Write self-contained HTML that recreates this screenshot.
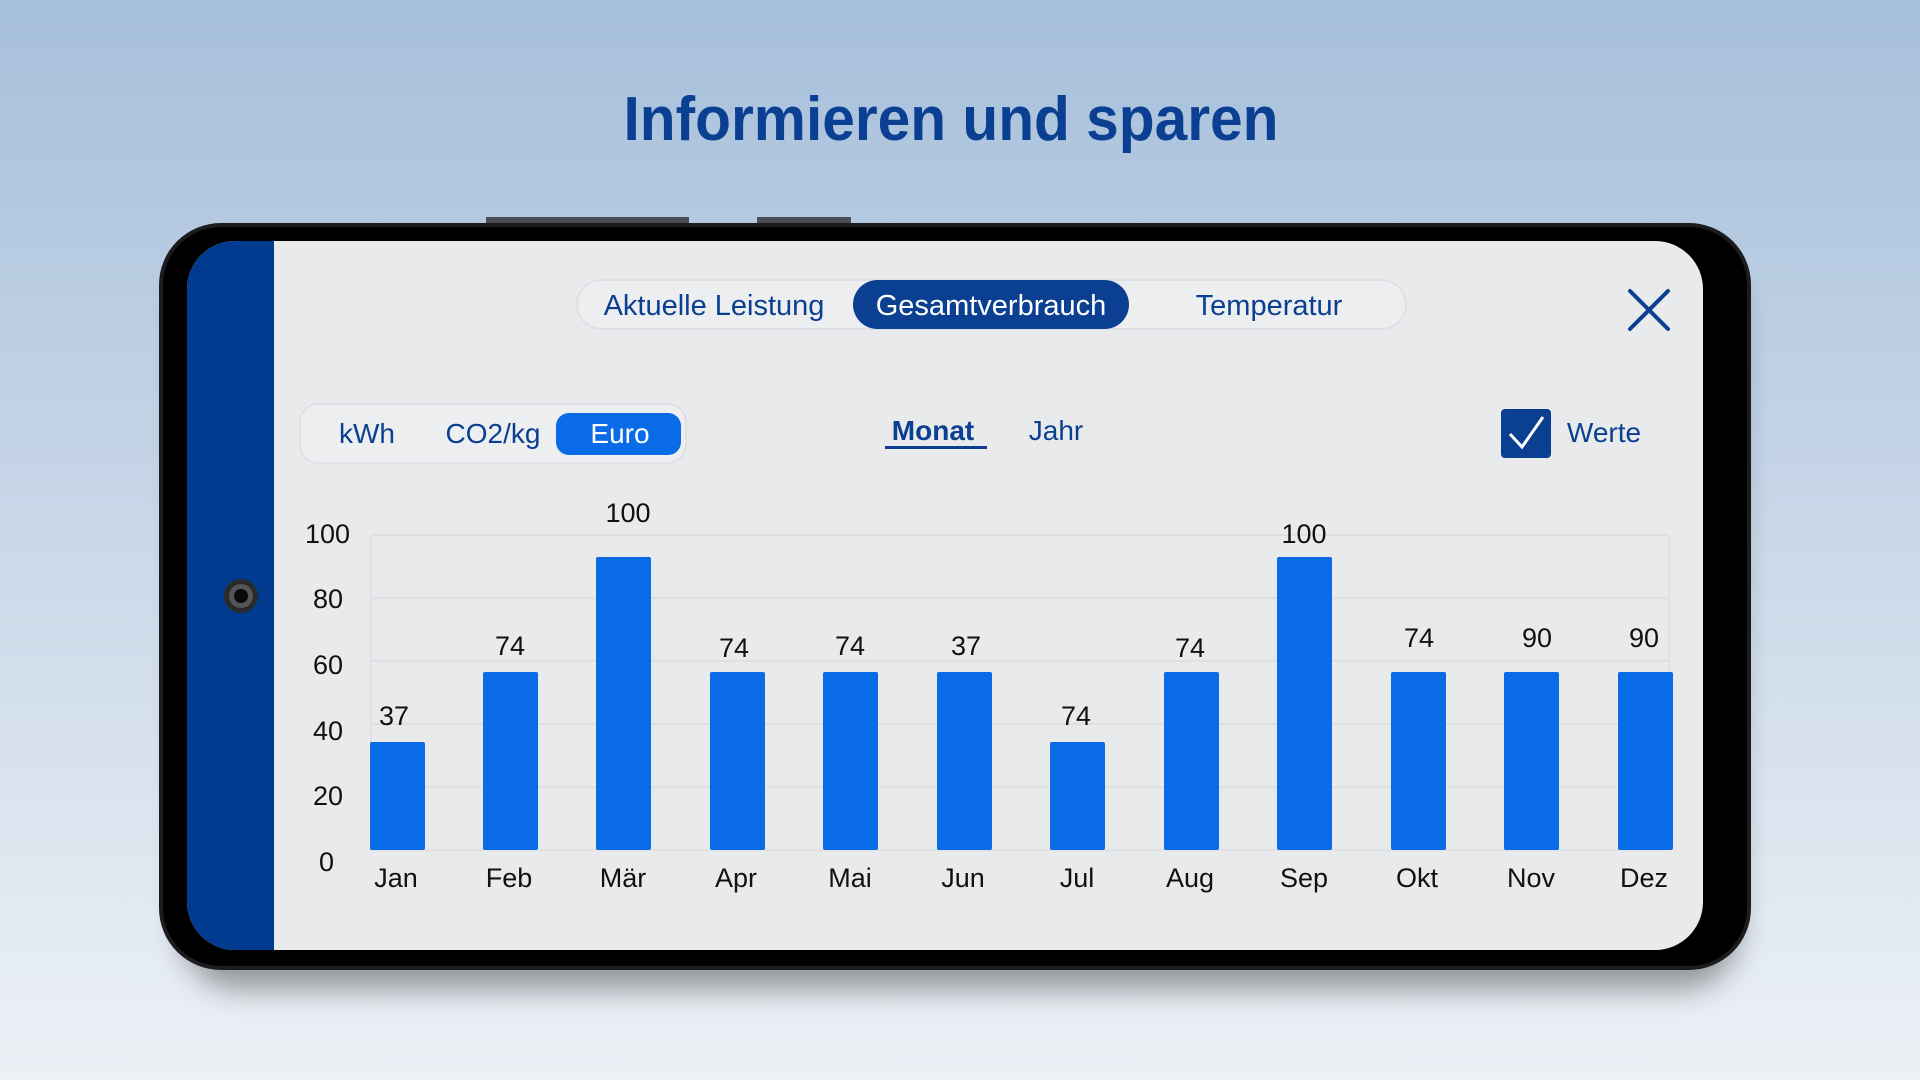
<!DOCTYPE html>
<html><head><meta charset="utf-8"><style>
html,body{margin:0;padding:0;width:1920px;height:1080px;overflow:hidden}
svg{display:block}
text{font-family:"Liberation Sans",sans-serif}
</style></head><body>
<svg width="1920" height="1080" viewBox="0 0 1920 1080" xmlns="http://www.w3.org/2000/svg">
<defs>
<linearGradient id="bg" x1="0" y1="0" x2="0" y2="1">
<stop offset="0" stop-color="#a6bfdb"/><stop offset="1" stop-color="#edf1f6"/>
</linearGradient>
<filter id="sh" x="-10%" y="-10%" width="120%" height="130%"><feGaussianBlur stdDeviation="14"/></filter>
</defs>
<rect width="1920" height="1080" fill="url(#bg)"/>
<text x="951" y="140" text-anchor="middle" font-family="Liberation Sans Narrow, Liberation Sans, sans-serif" font-weight="bold" font-size="62" fill="#0b3f91" textLength="655" lengthAdjust="spacingAndGlyphs" style="font-family:'Liberation Sans Narrow','Liberation Sans',sans-serif">Informieren und sparen</text>
<!-- shadow -->
<rect x="180" y="260" width="1560" height="730" rx="60" fill="#000" opacity="0.35" filter="url(#sh)"/>
<!-- buttons -->
<rect x="486" y="217" width="203" height="8" fill="#4a4f57"/>
<rect x="757" y="217" width="94" height="8" fill="#4a4f57"/>
<!-- phone -->
<rect x="159" y="223" width="1592" height="747" rx="62" fill="#1c1c1e"/>
<rect x="163" y="227" width="1584" height="739" rx="58" fill="#000"/>
<clipPath id="scr"><rect x="187" y="241" width="1516" height="709" rx="48"/></clipPath>
<g clip-path="url(#scr)">
<rect x="187" y="241" width="1516" height="709" fill="#e9eaec"/>
<rect x="187" y="241" width="87" height="709" fill="#003b8f"/>
</g>
<circle cx="241" cy="596" r="17" fill="#2a2a2a"/><circle cx="241" cy="596" r="12" fill="#555"/><circle cx="241" cy="596" r="7" fill="#0a0a0a"/>
<!-- top segmented -->
<rect x="577" y="280" width="829" height="49" rx="24.5" fill="#eceef0" stroke="#dde0e4" stroke-width="2"/>
<rect x="853" y="280" width="276" height="49" rx="24.5" fill="#0b3f91"/>
<g font-size="29" text-anchor="middle">
<text x="714" y="315" fill="#0b3f91">Aktuelle Leistung</text>
<text x="991" y="315" fill="#fff">Gesamtverbrauch</text>
<text x="1269" y="315" fill="#0b3f91">Temperatur</text>
</g>
<path d="M1630 291 L1668 329 M1668 291 L1630 329" stroke="#0b3f91" stroke-width="4" stroke-linecap="round"/>
<!-- unit segmented -->
<rect x="300" y="404" width="386" height="59" rx="18" fill="#eceef0" stroke="#dde0e4" stroke-width="2"/>
<rect x="556" y="413" width="125" height="42" rx="13" fill="#0a6be6"/>
<g font-size="28" text-anchor="middle">
<text x="367" y="443" fill="#0b3f91">kWh</text>
<text x="493" y="443" fill="#0b3f91">CO2/kg</text>
<text x="620" y="443" fill="#fff">Euro</text>
<text x="933" y="440" fill="#0b3f91" font-weight="bold">Monat</text>
<text x="1056" y="440" fill="#0b3f91">Jahr</text>
<text x="1604" y="442" fill="#0b3f91">Werte</text>
</g>
<rect x="885" y="446" width="102" height="3" fill="#0b3f91"/>
<rect x="1501" y="409" width="50" height="49" rx="4" fill="#0b3f91"/>
<path d="M1510 434 L1522 447 L1543 417" stroke="#fff" stroke-width="3" fill="none"/>
<!-- grid -->
<g stroke="#dcdde0" stroke-width="1.5">
<line x1="371" y1="535" x2="1669" y2="535"/><line x1="371" y1="598" x2="1669" y2="598"/>
<line x1="371" y1="661" x2="1669" y2="661"/><line x1="371" y1="724" x2="1669" y2="724"/>
<line x1="371" y1="787" x2="1669" y2="787"/><line x1="371" y1="850" x2="1669" y2="850"/>
<line x1="371" y1="535" x2="371" y2="850"/><line x1="1669" y1="535" x2="1669" y2="850"/>
</g>
<g font-size="27" fill="#111" text-anchor="end">
<text x="350" y="543">100</text><text x="343" y="608">80</text><text x="343" y="674">60</text>
<text x="343" y="740">40</text><text x="343" y="805">20</text><text x="334" y="871">0</text>
</g>
<g fill="#0a6be6">
<rect x="370" y="742" width="55" height="108" rx="2"/>
<rect x="483" y="672" width="55" height="178" rx="2"/>
<rect x="596" y="557" width="55" height="293" rx="2"/>
<rect x="710" y="672" width="55" height="178" rx="2"/>
<rect x="823" y="672" width="55" height="178" rx="2"/>
<rect x="937" y="672" width="55" height="178" rx="2"/>
<rect x="1050" y="742" width="55" height="108" rx="2"/>
<rect x="1164" y="672" width="55" height="178" rx="2"/>
<rect x="1277" y="557" width="55" height="293" rx="2"/>
<rect x="1391" y="672" width="55" height="178" rx="2"/>
<rect x="1504" y="672" width="55" height="178" rx="2"/>
<rect x="1618" y="672" width="55" height="178" rx="2"/>
</g>
<g font-size="27" fill="#111" text-anchor="middle">
<text x="394" y="725">37</text><text x="510" y="655">74</text><text x="628" y="522">100</text>
<text x="734" y="657">74</text><text x="850" y="655">74</text><text x="966" y="655">37</text>
<text x="1076" y="725">74</text><text x="1190" y="657">74</text><text x="1304" y="543">100</text>
<text x="1419" y="647">74</text><text x="1537" y="647">90</text><text x="1644" y="647">90</text>
</g>
<g font-size="27" fill="#111" text-anchor="middle">
<text x="396" y="887">Jan</text><text x="509" y="887">Feb</text><text x="623" y="887">Mär</text>
<text x="736" y="887">Apr</text><text x="850" y="887">Mai</text><text x="963" y="887">Jun</text>
<text x="1077" y="887">Jul</text><text x="1190" y="887">Aug</text><text x="1304" y="887">Sep</text>
<text x="1417" y="887">Okt</text><text x="1531" y="887">Nov</text><text x="1644" y="887">Dez</text>
</g>
</svg>
</body></html>
